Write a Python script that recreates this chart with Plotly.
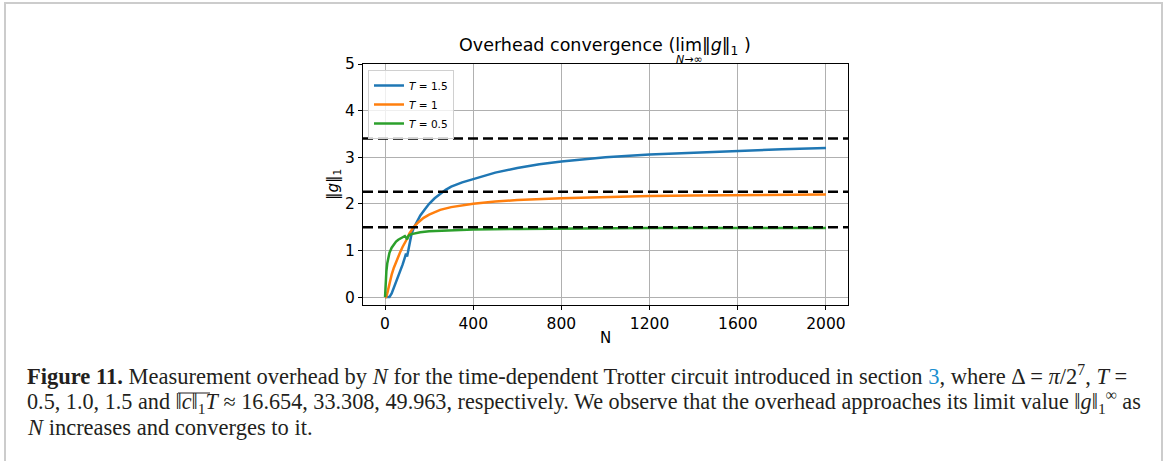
import plotly.graph_objects as go

# ---------------- data ----------------
n_t15 = [0, 20, 30, 40, 50, 60, 70, 80, 90, 95, 100, 105, 110, 120, 130, 140, 160, 180, 200, 225, 250,
         275, 300, 350, 400, 450, 500, 600, 700, 800, 900, 1000, 1200, 1400, 1600, 1800, 2000]
g_t15 = [0, 0, 0.08, 0.2, 0.32, 0.45, 0.58, 0.7, 0.85, 0.93, 0.87, 1.0, 1.15, 1.35, 1.48, 1.58, 1.75, 1.88,
         2.0, 2.12, 2.22, 2.3, 2.37, 2.46, 2.53, 2.6, 2.67, 2.77, 2.85, 2.91, 2.96, 3.0, 3.06, 3.1,
         3.14, 3.17, 3.20]

n_t10 = [0, 5, 10, 20, 30, 40, 50, 60, 70, 80, 90, 100, 110, 120, 130, 150, 175, 200, 250, 300, 350,
         400, 500, 600, 800, 1000, 1200, 1400, 1600, 1800, 2000]
g_t10 = [0, 0, 0.08, 0.3, 0.48, 0.63, 0.76, 0.88, 0.98, 1.08, 1.16, 1.25, 1.36, 1.44, 1.5, 1.6, 1.7,
         1.77, 1.87, 1.93, 1.97, 2.0, 2.05, 2.08, 2.12, 2.15, 2.17, 2.18, 2.19, 2.2, 2.2]

n_t05 = [0, 3, 6, 10, 15, 20, 30, 40, 50, 60, 70, 80, 90, 95, 100, 105, 110, 120, 140, 160, 200, 300,
         400, 600, 800, 1000, 1200, 1600, 2000]
g_t05 = [0, 0.35, 0.55, 0.72, 0.85, 0.95, 1.06, 1.14, 1.19, 1.23, 1.26, 1.29, 1.31, 1.28, 1.24, 1.3,
         1.33, 1.35, 1.37, 1.39, 1.41, 1.43, 1.45, 1.46, 1.47, 1.47, 1.48, 1.48, 1.48]

limits = [3.40, 2.26, 1.50]
series_names = ["<i>T</i> = 1.5", "<i>T</i> = 1", "<i>T</i> = 0.5"]
series_colors = ["#1f77b4", "#ff7f0e", "#2ca02c"]
x_ticks = [0, 400, 800, 1200, 1600, 2000]
y_ticks = [0, 1, 2, 3, 4, 5]

# ---------------- layout helpers ----------------
W, H = 1165, 461
L, R, T, B = 363, 848, 64, 305   # plot area in pixels


def px(x):
    return (x - L) / (R - L)


def py(y):
    return (B - y) / (B - T)


fig = go.Figure()
for xs, ys, name, col in zip([n_t15, n_t10, n_t05], [g_t15, g_t10, g_t05], series_names, series_colors):
    fig.add_trace(go.Scatter(x=xs, y=ys, mode="lines", name=name,
                             line=dict(color=col, width=2.5)))

shapes = []
for v in limits:
    shapes.append(dict(type="line", xref="paper", yref="y", x0=0, x1=1, y0=v, y1=v,
                       line=dict(color="black", width=2.5, dash="10px,5px"), layer="above"))
# page frame
shapes.append(dict(type="rect", xref="paper", yref="paper", x0=px(5), x1=px(1162), y0=py(3), y1=py(475),
                   line=dict(color="#cccccc", width=2), fillcolor="rgba(0,0,0,0)", layer="below"))
# overline over ||c||_1 in the caption
shapes.append(dict(type="line", xref="paper", yref="paper", x0=px(178), x1=px(210), y0=py(393), y1=py(393),
                   line=dict(color="#231f20", width=1)))

axis_common = dict(showline=True, linecolor="black", linewidth=1, mirror=True, ticks="outside",
                   ticklen=4, tickcolor="black", showgrid=True, gridcolor="#b0b0b0", gridwidth=1,
                   zeroline=False, tickfont=dict(family="DejaVu Sans", size=15.5, color="black"))

fig.update_layout(
    width=W, height=H, autosize=False,
    margin=dict(l=L, r=W - R, t=T, b=H - B),
    paper_bgcolor="white", plot_bgcolor="white",
    font=dict(family="DejaVu Sans", color="black"),
    xaxis=dict(range=[-100, 2100], tickvals=x_ticks,
               title=dict(text="N", font=dict(size=15), standoff=0), **axis_common),
    yaxis=dict(range=[-0.17, 5], tickvals=y_ticks,
               title=dict(text="‖<i>g</i>‖<sub>1</sub>", font=dict(size=15), standoff=2), **axis_common),
    legend=dict(x=px(368), y=py(70), xanchor="left", yanchor="top",
                bgcolor="rgba(255,255,255,0.8)", bordercolor="#d0d0d0", borderwidth=1,
                font=dict(family="DejaVu Sans", size=10.5), tracegroupgap=0, itemwidth=30),
    shapes=shapes,
    showlegend=True,
)

ann = []
# title
ann.append(dict(text="Overhead convergence (lim‖<i>g</i>‖<sub>1</sub> )", x=px(605), y=py(46),
                xref="paper", yref="paper", showarrow=False, xanchor="center", yanchor="middle",
                font=dict(family="DejaVu Sans", size=17.5, color="black")))
ann.append(dict(text="<i>N</i>→∞", x=px(689), y=py(59), xref="paper", yref="paper", showarrow=False,
                xanchor="center", yanchor="middle", font=dict(family="DejaVu Sans", size=11, color="black")))

cap1 = ("<b>Figure 11.</b> Measurement overhead by <i>N</i> for the time-dependent Trotter circuit "
        "introduced in section <span style='color:#1a8fd0'>3</span>, where Δ = <i>π</i>/2<sup>7</sup>, <i>T</i> =")
cap2 = ("0.5, 1.0, 1.5 and ‖<i>c</i>‖<sub>1</sub><i>T</i> ≈ 16.654, 33.308, 49.963, respectively. "
        "We observe that the overhead approaches its limit value ‖<i>g</i>‖<sub>1</sub><sup>∞</sup> as")
cap3 = "<i>N</i> increases and converges to it."
for txt, yy, fs in [(cap1, 375, 22.5), (cap2, 401, 22.2), (cap3, 427, 22.5)]:
    ann.append(dict(text=txt, x=px(25), y=py(yy), xref="paper", yref="paper", showarrow=False,
                    xanchor="left", yanchor="middle", align="left",
                    font=dict(family="Liberation Serif", size=fs, color="#231f20")))

fig.update_layout(annotations=ann)
fig.write_html("out.html")
